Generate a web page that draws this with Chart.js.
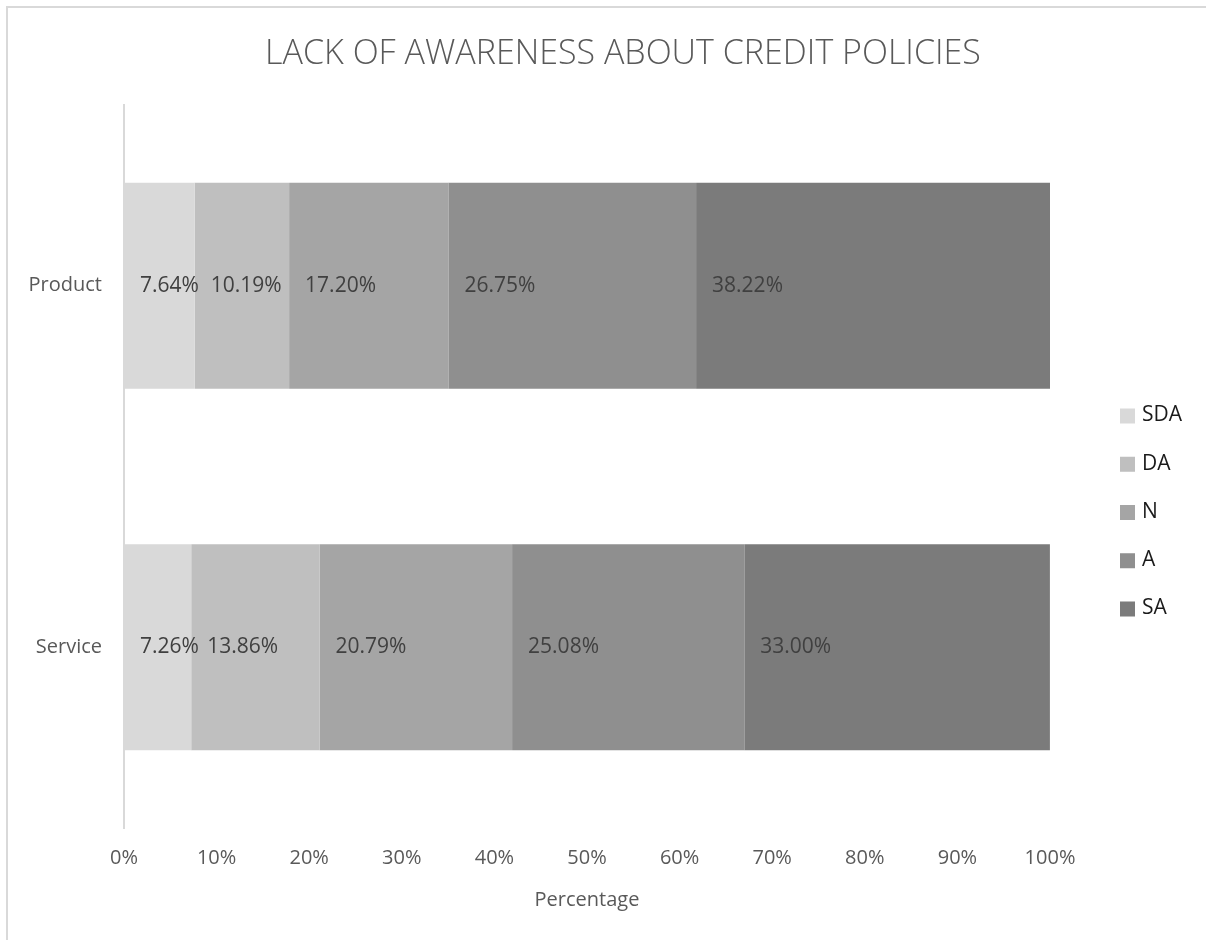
<!DOCTYPE html>
<html>
<head>
<meta charset="utf-8">
<title>Lack of awareness about credit policies</title>
<style>
  html, body { margin: 0; padding: 0; background: #fff; }
  #wrap { position: relative; width: 1206px; height: 940px; }
</style>
</head>
<body>
<div id="wrap"><canvas id="awarenessChart" width="1206" height="940"></canvas></div>

<script src="https://cdn.jsdelivr.net/npm/chart.js"></script>
<script>
  // data
  const categories = ['Product', 'Service'];
  const seriesNames = ['SDA', 'DA', 'N', 'A', 'SA'];
  const sda = [7.64, 7.26];
  const da = [10.19, 13.86];
  const neutral = [17.20, 20.79];
  const agree = [26.75, 25.08];
  const sa = [38.22, 33.00];
  const tickValues = [0, 10, 20, 30, 40, 50, 60, 70, 80, 90, 100];
  const chartTitle = 'LACK OF AWARENESS ABOUT CREDIT POLICIES';

  const colours = ['#d9d9d9', '#bfbfbf', '#a5a5a5', '#8f8f8f', '#7b7b7b'];
  const fontFam = '"Open Sans", Lato, sans-serif';

  const seriesData = [sda, da, neutral, agree, sa];
  const datasets = seriesNames.map((name, i) => ({
    label: name,
    data: seriesData[i],
    backgroundColor: colours[i],
    borderWidth: 0,
    barPercentage: 0.57,
    categoryPercentage: 1.0
  }));

  // frame, title, value labels and legend drawn by hand
  const extras = {
    id: 'extras',
    beforeDraw(chart) {
      const c = chart.ctx;
      c.save();
      c.strokeStyle = '#d9d9d9';
      c.lineWidth = 2;
      c.beginPath();
      c.moveTo(7, 945);
      c.lineTo(7, 7);
      c.lineTo(1210, 7);
      c.stroke();

      c.font = '300 34px ' + fontFam;
      c.fillStyle = '#595959';
      c.textAlign = 'center';
      c.textBaseline = 'middle';
      c.fillText(chartTitle, 623, 54);
      c.restore();
    },
    afterDatasetsDraw(chart) {
      const c = chart.ctx;
      c.save();
      c.font = '21px ' + fontFam;
      c.fillStyle = '#404040';
      c.textBaseline = 'middle';
      c.textAlign = 'left';
      chart.data.datasets.forEach((ds, di) => {
        const meta = chart.getDatasetMeta(di);
        meta.data.forEach((bar, j) => {
          const left = Math.min(bar.x, bar.base);
          c.fillText(ds.data[j].toFixed(2) + '%', left + 16, bar.y);
        });
      });
      c.restore();
    },
    afterDraw(chart) {
      const c = chart.ctx;
      c.save();
      c.font = '21px ' + fontFam;
      c.textBaseline = 'middle';
      c.textAlign = 'left';
      chart.data.datasets.forEach((ds, i) => {
        const y = 415.5 + i * 48.25;
        c.fillStyle = ds.backgroundColor;
        c.fillRect(1120, y - 7, 15, 15);
        c.fillStyle = '#1a1a1a';
        c.fillText(ds.label, 1142, y);
      });
      c.restore();
    }
  };

  new Chart(document.getElementById('awarenessChart'), {
    type: 'bar',
    data: { labels: categories, datasets: datasets },
    options: {
      indexAxis: 'y',
      responsive: false,
      animation: false,
      layout: { padding: { left: 0, right: 156, top: 105, bottom: 28 } },
      plugins: {
        legend: { display: false },
        tooltip: { enabled: false },
        title: { display: false }
      },
      scales: {
        x: {
          stacked: true,
          min: 0,
          max: 100,
          afterBuildTicks(scale) {
            scale.ticks = tickValues.map(v => ({ value: v }));
          },
          grid: { display: false, drawTicks: false },
          border: { display: false },
          ticks: {
            padding: 18,
            color: '#595959',
            font: { family: fontFam, size: 20, lineHeight: 1.2 },
            callback: v => v + '%'
          },
          title: {
            display: true,
            text: 'Percentage',
            color: '#595959',
            font: { family: fontFam, size: 20, lineHeight: 1.2 },
            padding: { top: 0, bottom: 0 }
          }
        },
        y: {
          stacked: true,
          afterFit(scale) { scale.width = 124; },
          grid: { display: false, drawTicks: false },
          border: { display: true, color: '#d9d9d9', width: 2 },
          ticks: {
            padding: 22,
            color: '#595959',
            font: { family: fontFam, size: 20 }
          }
        }
      }
    },
    plugins: [extras]
  });
</script>
</body>
</html>
